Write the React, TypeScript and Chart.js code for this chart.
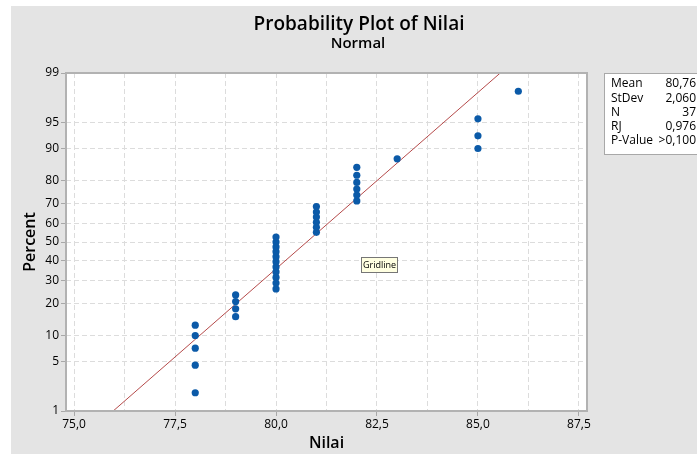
import React, { useEffect, useRef } from 'react';
import { Chart, registerables } from 'chart.js';

Chart.register(...registerables);

// Observed values of Nilai (sorted) and their plotting positions in percent
const nilai = [
  78, 78, 78, 78, 78,
  79, 79, 79, 79,
  80, 80, 80, 80, 80, 80, 80, 80, 80, 80, 80,
  81, 81, 81, 81, 81, 81,
  82, 82, 82, 82, 82, 82,
  83,
  85, 85, 85,
  86,
];
const percent = [
  1.9, 4.5, 7.2, 9.9, 12.6,
  15.2, 17.9, 20.6, 23.3,
  25.9, 28.6, 31.3, 34.0, 36.6, 39.3, 42.0, 44.7, 47.3, 50.0, 52.7,
  55.3, 58.0, 60.7, 63.4, 66.0, 68.7,
  71.4, 74.1, 76.7, 79.4, 82.1, 84.8,
  87.4,
  90.1, 92.8, 95.5,
  98.1,
];

const percentTicks = [1, 5, 10, 20, 30, 40, 50, 60, 70, 80, 90, 95, 99];
const nilaiTicks = [75, 76.25, 77.5, 78.75, 80, 81.25, 82.5, 83.75, 85, 86.25, 87.5];
const nilaiRange = [74.8, 87.7];

const mean = 80.76;
const stdev = 2.06;
const statLabels = ['Mean', 'StDev', 'N', 'RJ', 'P-Value'];
const statValues = ['80,76', '2,060', '37', '0,976', '>0,100'];

const FONT = "'Open Sans', 'Noto Sans', sans-serif";

// Inverse of the standard normal CDF (Acklam's rational approximation)
function probit(p: number): number {
  const a = [-39.69683028665376, 220.9460984245205, -275.9285104469687, 138.357751867269, -30.66479806614716, 2.506628277459239];
  const b = [-54.47609879822406, 161.5858368580409, -155.6989798598866, 66.80131188771972, -13.28068155288572];
  const c = [-0.007784894002430293, -0.3223964580411365, -2.400758277161838, -2.549732539343734, 4.374664141464968, 2.938163982698783];
  const d = [0.007784695709041462, 0.3224671290700398, 2.445134137142996, 3.754408661907416];
  const pl = 0.02425;
  if (p < pl) {
    const q = Math.sqrt(-2 * Math.log(p));
    return (((((c[0] * q + c[1]) * q + c[2]) * q + c[3]) * q + c[4]) * q + c[5]) /
      ((((d[0] * q + d[1]) * q + d[2]) * q + d[3]) * q + 1);
  }
  if (p > 1 - pl) {
    const q = Math.sqrt(-2 * Math.log(1 - p));
    return -(((((c[0] * q + c[1]) * q + c[2]) * q + c[3]) * q + c[4]) * q + c[5]) /
      ((((d[0] * q + d[1]) * q + d[2]) * q + d[3]) * q + 1);
  }
  const q = p - 0.5;
  const r = q * q;
  return (((((a[0] * r + a[1]) * r + a[2]) * r + a[3]) * r + a[4]) * r + a[5]) * q /
    (((((b[0] * r + b[1]) * r + b[2]) * r + b[3]) * r + b[4]) * r + 1);
}

const fmtComma = (v: number) => v.toFixed(1).replace('.', ',');

const decorPlugin = {
  id: 'decor',
  beforeDraw(chart: any) {
    const { ctx, width, height, chartArea: a } = chart;
    ctx.save();
    ctx.fillStyle = '#ffffff';
    ctx.fillRect(0, 0, width, height);
    ctx.fillStyle = '#e4e4e4';
    ctx.fillRect(11, 6, width - 11, height - 6);
    ctx.fillStyle = '#ffffff';
    ctx.fillRect(a.left, a.top, a.right - a.left, a.bottom - a.top);
    ctx.restore();
  },
  afterDraw(chart: any) {
    const { ctx, chartArea: a } = chart;
    ctx.save();
    // plot frame
    ctx.strokeStyle = '#b2b2b2';
    ctx.lineWidth = 2;
    ctx.strokeRect(a.left, a.top, a.right - a.left, a.bottom - a.top);

    // titles
    ctx.fillStyle = '#000000';
    ctx.textAlign = 'center';
    ctx.textBaseline = 'alphabetic';
    ctx.font = `600 19px ${FONT}`;
    ctx.fillText('Probability Plot of Nilai', 359, 30);
    ctx.font = `600 15px ${FONT}`;
    ctx.fillText('Normal', 358, 48);

    // axis titles
    ctx.font = `600 16px ${FONT}`;
    ctx.fillText('Nilai', (a.left + a.right) / 2, 448);
    ctx.save();
    ctx.translate(35, (a.top + a.bottom) / 2);
    ctx.rotate(-Math.PI / 2);
    ctx.fillText('Percent', 0, 0);
    ctx.restore();

    // statistics box
    ctx.fillStyle = '#ffffff';
    ctx.fillRect(604, 73, 100, 81);
    ctx.strokeStyle = '#a8a8a8';
    ctx.lineWidth = 1;
    ctx.strokeRect(604.5, 73.5, 100, 81);
    ctx.fillStyle = '#000000';
    ctx.font = `12px ${FONT}`;
    ctx.textBaseline = 'middle';
    statLabels.forEach((lab, i) => {
      const y = 84 + i * 14.2;
      ctx.textAlign = 'left';
      ctx.fillText(lab, 611, y);
      ctx.textAlign = 'right';
      ctx.fillText(statValues[i], 696, y);
    });

    // hover hint box
    ctx.fillStyle = '#ffffe1';
    ctx.fillRect(361, 257, 36, 15);
    ctx.strokeStyle = '#767676';
    ctx.strokeRect(361.5, 257.5, 36, 15);
    ctx.fillStyle = '#000000';
    ctx.font = `9px ${FONT}`;
    ctx.textAlign = 'center';
    ctx.fillText('Gridline', 379.5, 265.5);
    ctx.restore();
  },
};

export default function App() {
  const ref = useRef<HTMLCanvasElement | null>(null);

  useEffect(() => {
    if (!ref.current) return;
    Chart.defaults.font.family = FONT;

    const points = nilai.map((x, i) => ({ x, y: probit(percent[i] / 100) }));
    const fitLine = nilaiRange.map((x) => ({ x, y: (x - mean) / stdev }));

    const chart = new Chart(ref.current, {
      type: 'scatter',
      data: {
        datasets: [
          {
            label: 'Nilai',
            data: points,
            backgroundColor: '#0b5aa8',
            borderWidth: 0,
            pointRadius: 3.6,
            order: 0,
          },
          {
            label: 'Fit',
            data: fitLine,
            showLine: true,
            borderColor: '#b54a4a',
            borderWidth: 1,
            pointRadius: 0,
            order: 1,
          } as any,
        ],
      },
      options: {
        animation: false,
        responsive: false,
        events: [],
        layout: { padding: { left: 16, top: 73, right: 110, bottom: 0 } },
        plugins: { legend: { display: false }, tooltip: { enabled: false } },
        scales: {
          x: {
            type: 'linear',
            min: nilaiRange[0],
            max: nilaiRange[1],
            bounds: 'data',
            afterBuildTicks: (s: any) => {
              s.ticks = nilaiTicks.map((value) => ({ value }));
            },
            afterFit: (s: any) => {
              s.height = 43;
            },
            border: { display: false, dash: [5, 3] },
            grid: {
              color: '#dcdcdc',
              lineWidth: 1,
              tickLength: 5,
              tickColor: (c: any) => (c.tick && c.tick.value % 2.5 === 0 ? '#a8a8a8' : 'rgba(0,0,0,0)'),
            },
            ticks: {
              autoSkip: false,
              maxRotation: 0,
              padding: 1,
              color: '#000000',
              font: { size: 12, family: FONT },
              callback: (v: any) => (Number(v) % 2.5 === 0 ? fmtComma(Number(v)) : ''),
            },
          },
          y: {
            type: 'linear',
            min: probit(0.01),
            max: probit(0.99),
            bounds: 'data',
            afterBuildTicks: (s: any) => {
              s.ticks = percentTicks.map((p) => ({ value: probit(p / 100) }));
            },
            afterFit: (s: any) => {
              s.width = 50;
            },
            border: { display: false, dash: [5, 3] },
            grid: {
              color: '#dcdcdc',
              lineWidth: 1,
              tickLength: 5,
              tickColor: '#a8a8a8',
            },
            ticks: {
              autoSkip: false,
              padding: 2,
              color: '#000000',
              font: { size: 12, family: FONT },
              callback: (_v: any, i: number) => String(percentTicks[i]),
            },
          },
        },
      },
      plugins: [decorPlugin],
    } as any);

    return () => chart.destroy();
  }, []);

  return (
    <div style={{ position: 'fixed', left: 0, top: 0, width: 697, height: 454 }}>
      <canvas ref={ref} width={697} height={454} />
    </div>
  );
}
